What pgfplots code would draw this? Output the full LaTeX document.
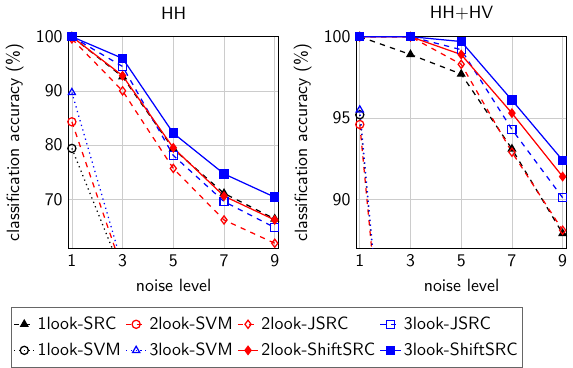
\documentclass[border=0pt]{standalone}
\usepackage{pgfplots}
\pgfplotsset{compat=1.18}
\usepgfplotslibrary{groupplots}
\renewcommand{\familydefault}{\sfdefault}
\begin{document}
\begin{tikzpicture}
\begin{groupplot}[
  group style={group size=2 by 1, horizontal sep=44pt},
  scale only axis, width=118pt, height=119pt,
  xmin=0.88, xmax=9.15,
  xtick={1,3,5,7,9},
  grid=major, grid style={gray!40},
  xlabel={noise level},
  ylabel={classification accuracy (\%)},
  /pgf/number format/assume math mode=true,
  every axis plot/.append style={line width=0.7pt, mark size=2.3pt},
  tick align=inside, tick style={draw=none},
  legend image code/.code={\draw[mark repeat=2,mark phase=2] plot coordinates {(0cm,0cm) (0.2cm,0cm) (0.4cm,0cm)};},
]
\nextgroupplot[title={HH}, ymin=61, ymax=100, ytick={70,80,90,100},
  legend columns=4, legend cell align=left,
  legend style={at={(0.945,-0.28)}, anchor=north, draw=gray!80!black,
    inner xsep=1pt, inner ysep=3pt, row sep=2pt,
    nodes={inner xsep=1.5pt},
    /tikz/every even column/.append style={column sep=1pt}},
]
  \addplot[black, dashed, mark=triangle*, mark options={solid}] coordinates {(1,100) (3,92.6) (5,79.3) (7,71.1) (9,66.4)};
  \addlegendentry{1look-SRC}
  \addplot[red, dashed, mark=o, mark options={solid}] coordinates {(1,84.3) (3,56.9) (5,45) (7,40) (9,38)};
  \addlegendentry{2look-SVM}
  \addplot[red, dashed, mark=diamond, mark options={solid}] coordinates {(1,99.6) (3,90.0) (5,75.7) (7,66.2) (9,61.9)};
  \addlegendentry{2look-JSRC}
  \addplot[blue, dashed, mark=square, mark options={solid}] coordinates {(1,100) (3,94.5) (5,78.1) (7,69.6) (9,64.8)};
  \addlegendentry{3look-JSRC}
  \addplot[black, dotted, mark=o, mark options={solid}] coordinates {(1,79.4) (3,56.2) (5,45) (7,40) (9,38)};
  \addlegendentry{1look-SVM}
  \addplot[blue, dotted, mark=triangle, mark options={solid}] coordinates {(1,89.7) (3,57.7) (5,45) (7,40) (9,38)};
  \addlegendentry{3look-SVM}
  \addplot[red, mark=diamond*] coordinates {(1,100) (3,92.8) (5,79.5) (7,70.6) (9,66.2)};
  \addlegendentry{2look-ShiftSRC}
  \addplot[blue, mark=square*] coordinates {(1,100) (3,96.0) (5,82.2) (7,74.7) (9,70.4)};
  \addlegendentry{3look-ShiftSRC}
\nextgroupplot[title={HH+HV}, ymin=87, ymax=100, ytick={90,95,100}]
  \addplot[black, dashed, mark=triangle*, mark options={solid}] coordinates {(1,100) (3,98.9) (5,97.7) (7,93.1) (9,87.9)};
  \addplot[red, dashed, mark=o, mark options={solid}] coordinates {(1,94.6) (3,62) (5,50) (7,45) (9,42)};
  \addplot[red, dashed, mark=diamond, mark options={solid}] coordinates {(1,100) (3,100) (5,98.3) (7,92.9) (9,88.1)};
  \addplot[blue, dashed, mark=square, mark options={solid}] coordinates {(1,100) (3,100) (5,99.2) (7,94.3) (9,90.1)};
  \addplot[black, dotted, mark=o, mark options={solid}] coordinates {(1,95.2) (3,62) (5,50) (7,45) (9,42)};
  \addplot[blue, dotted, mark=triangle, mark options={solid}] coordinates {(1,95.5) (3,62) (5,50) (7,45) (9,42)};
  \addplot[red, mark=diamond*] coordinates {(1,100) (3,100) (5,98.9) (7,95.3) (9,91.4)};
  \addplot[blue, mark=square*] coordinates {(1,100) (3,100) (5,99.7) (7,96.1) (9,92.4)};
\end{groupplot}
\end{tikzpicture}
\end{document}
